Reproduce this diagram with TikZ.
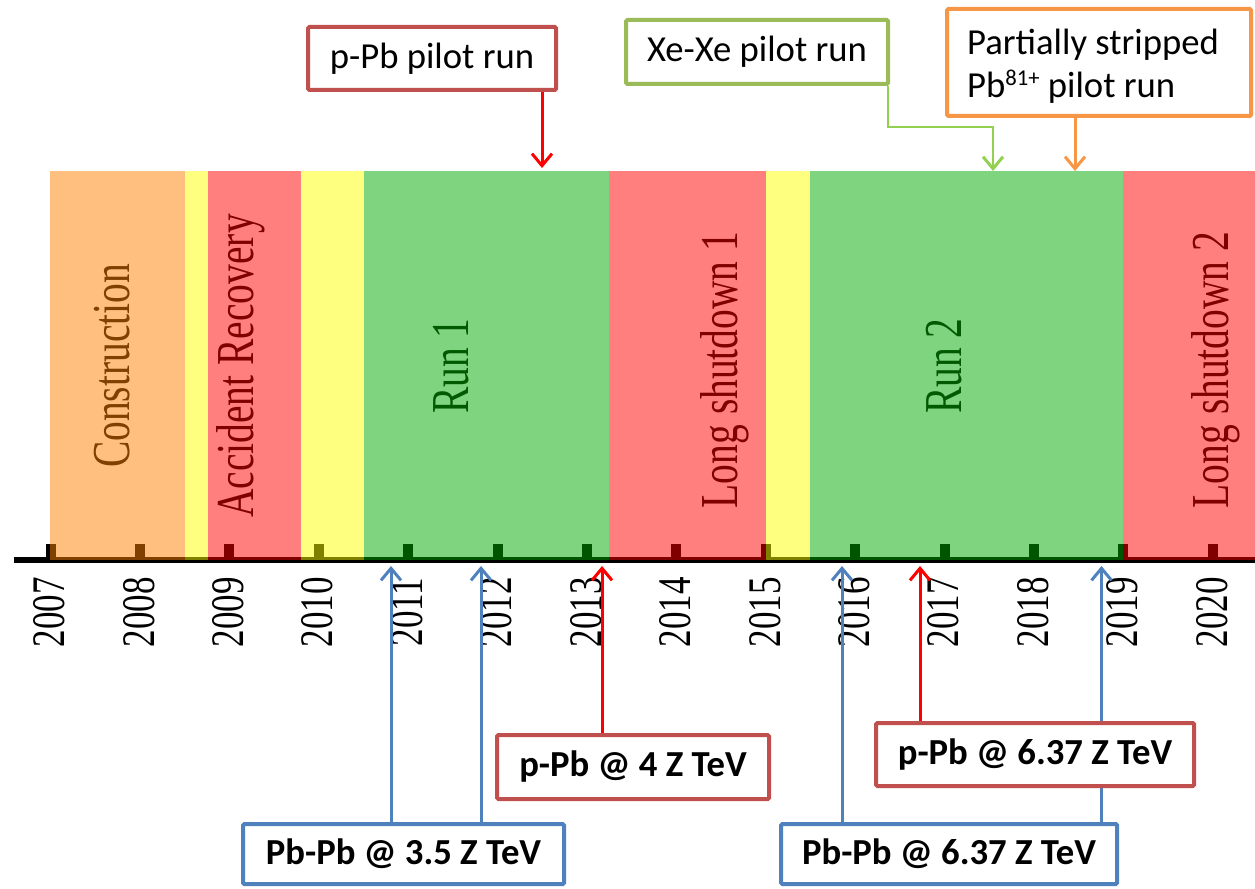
\documentclass[tikz,border=0pt]{standalone}
\usepackage{fontspec}
\setmainfont{Liberation Serif}
\newfontfamily\calfont{Carlito}
\usetikzlibrary{arrows.meta}

\definecolor{boxred}{HTML}{C0504D}
\definecolor{boxgreen}{HTML}{9BBB59}
\definecolor{boxorange}{HTML}{F79646}
\definecolor{boxblue}{HTML}{4F81BD}
\definecolor{linkgreen}{HTML}{92D050}
\definecolor{linkred}{HTML}{FF0000}
\definecolor{bandorange}{RGB}{255,128,0}
\definecolor{bandyellow}{RGB}{255,255,0}
\definecolor{bandred}{RGB}{255,0,0}
\definecolor{bandgreen}{RGB}{0,170,0}
\definecolor{txtorange}{RGB}{128,64,0}
\definecolor{txtred}{RGB}{128,0,0}
\definecolor{txtgreen}{RGB}{0,90,0}

\begin{document}
\begin{tikzpicture}[x=0.75pt,y=-0.75pt,
  tag/.style={draw, line width=3pt, fill=white, inner sep=0pt,
    rounded corners=1pt, align=center,
    font=\calfont\fontsize{27.5}{32.5}\selectfont},
  boldtag/.style={tag, font=\calfont\bfseries\fontsize{27.5}{32.5}\selectfont},
  band/.style={fill opacity=0.5, draw=none},
  phase/.style={rotate=90, anchor=base, inner sep=0pt},
  yearlbl/.style={rotate=90, anchor=center, inner sep=0pt,
    font=\fontsize{35}{35}\selectfont},
  link/.style={line width=2.25pt, -{Straight Barb[length=9pt,width=15pt]}},
]
\useasboundingbox (0,0) rectangle (1255,888);

% time axis with yearly ticks
\draw[line width=4.5pt] (14,560) -- (1255,560);
\foreach \i in {0,...,13}{
  \fill ({50.5+89.4*\i-5},544) rectangle ({50.5+89.4*\i+5},559);
}

% phases of operation
\fill[band, bandorange] (50,171) rectangle (185,560);
\fill[band, bandyellow] (185,171) rectangle (207.5,560);
\fill[band, bandred]    (207.5,171) rectangle (300.5,560);
\fill[band, bandyellow] (300.5,171) rectangle (364,560);
\fill[band, bandgreen]  (364,171) rectangle (609,560);
\fill[band, bandred]    (609,171) rectangle (766,560);
\fill[band, bandyellow] (766,171) rectangle (810,560);
\fill[band, bandgreen]  (810,171) rectangle (1123,560);
\fill[band, bandred]    (1123,171) rectangle (1255,560);

\begin{scope}[font=\fontsize{40}{40}\selectfont]
\node[phase, text=txtorange] (constr) at (129,366) {\scalebox{0.74}[1]{Construction}};
\node[phase, text=txtred]    (accid)  at (253,366) {\scalebox{0.74}[1]{Accident Recovery}};
\node[phase, text=txtgreen]  (runA)   at (468,366) {\scalebox{0.74}[1]{Run 1}};
\node[phase, text=txtred]    (lsA)    at (737,370) {\scalebox{0.74}[1]{Long shutdown 1}};
\node[phase, text=txtgreen]  (runB)   at (961,366) {\scalebox{0.74}[1]{Run 2}};
\node[phase, text=txtred]    (lsB)    at (1228,370) {\scalebox{0.74}[1]{Long shutdown 2}};
\end{scope}

% year labels
\foreach \i in {0,...,13}{
  \pgfmathtruncatemacro{\yr}{2007+\i}
  \node[yearlbl] (y\yr) at ({49.5+89.4*\i},612) {\scalebox{0.75}[1]{\yr}};
}

% arrow tips on the time line
\coordinate (ppTip) at (542,168);
\coordinate (xeKnee) at (888,127);
\coordinate (xeTip) at (993,171);
\coordinate (psTip) at (1075,171);
\coordinate (upA) at (391,566);
\coordinate (upB) at (481,566);
\coordinate (upC) at (602,566);
\coordinate (upD) at (842,566);
\coordinate (upE) at (920,566);
\coordinate (upF) at (1101.5,566);

% callout boxes
\node[tag, draw=boxred, minimum width=186pt, minimum height=47.25pt]
  (ppbpilot) at (432,58.5) {p-Pb pilot run};
\node[tag, draw=boxgreen, minimum width=196.5pt, minimum height=48pt]
  (xexe) at (757,52) {Xe-Xe pilot run};
\node[tag, draw=boxorange, minimum width=228pt, minimum height=80.25pt]
  (partial) at (1099,62.5) {%
    \raisebox{-3.5pt}[\height][\depth]{\begin{tabular}{@{}l@{}}Partially stripped\\
    Pb\raisebox{0.33em}{\fontsize{17}{17}\selectfont 81+} pilot run\end{tabular}}\hspace{9pt}};

% connectors from the upper boxes
\draw[link, linkred] (ppbpilot.south -| ppTip) -- (ppTip);
\draw[link, linkgreen, line width=2.2pt] (xexe.south -| xeKnee) -- (xeKnee) -| (xeTip);
\draw[link, boxorange] (partial.south -| psTip) -- (psTip);

% lower boxes and their arrows
\node[boldtag, draw=boxblue, minimum width=240.75pt, minimum height=45pt]
  (pbpbA) at (403.5,854) {Pb-Pb @ 3.5 Z TeV};
\node[boldtag, draw=boxblue, minimum width=252pt, minimum height=45pt]
  (pbpbB) at (949,854) {Pb-Pb @ 6.37 Z TeV};
\draw[link, boxblue] (pbpbA.north -| upA) -- (upA);
\draw[link, boxblue] (pbpbA.north -| upB) -- (upB);
\draw[link, boxblue] (pbpbB.north -| upD) -- (upD);
\draw[link, boxblue] (pbpbB.north -| upF) -- (upF);

\node[boldtag, draw=boxred, minimum width=204pt, minimum height=48pt]
  (ppbA) at (633,767) {p-Pb @ 4 Z TeV};
\node[boldtag, draw=boxred, minimum width=238.5pt, minimum height=47.25pt]
  (ppbB) at (1035,754.5) {p-Pb @ 6.37 Z TeV};
\draw[link, linkred] (ppbA.north -| upC) -- (upC);
\draw[link, linkred] (ppbB.north -| upE) -- (upE);
\end{tikzpicture}
\end{document}
